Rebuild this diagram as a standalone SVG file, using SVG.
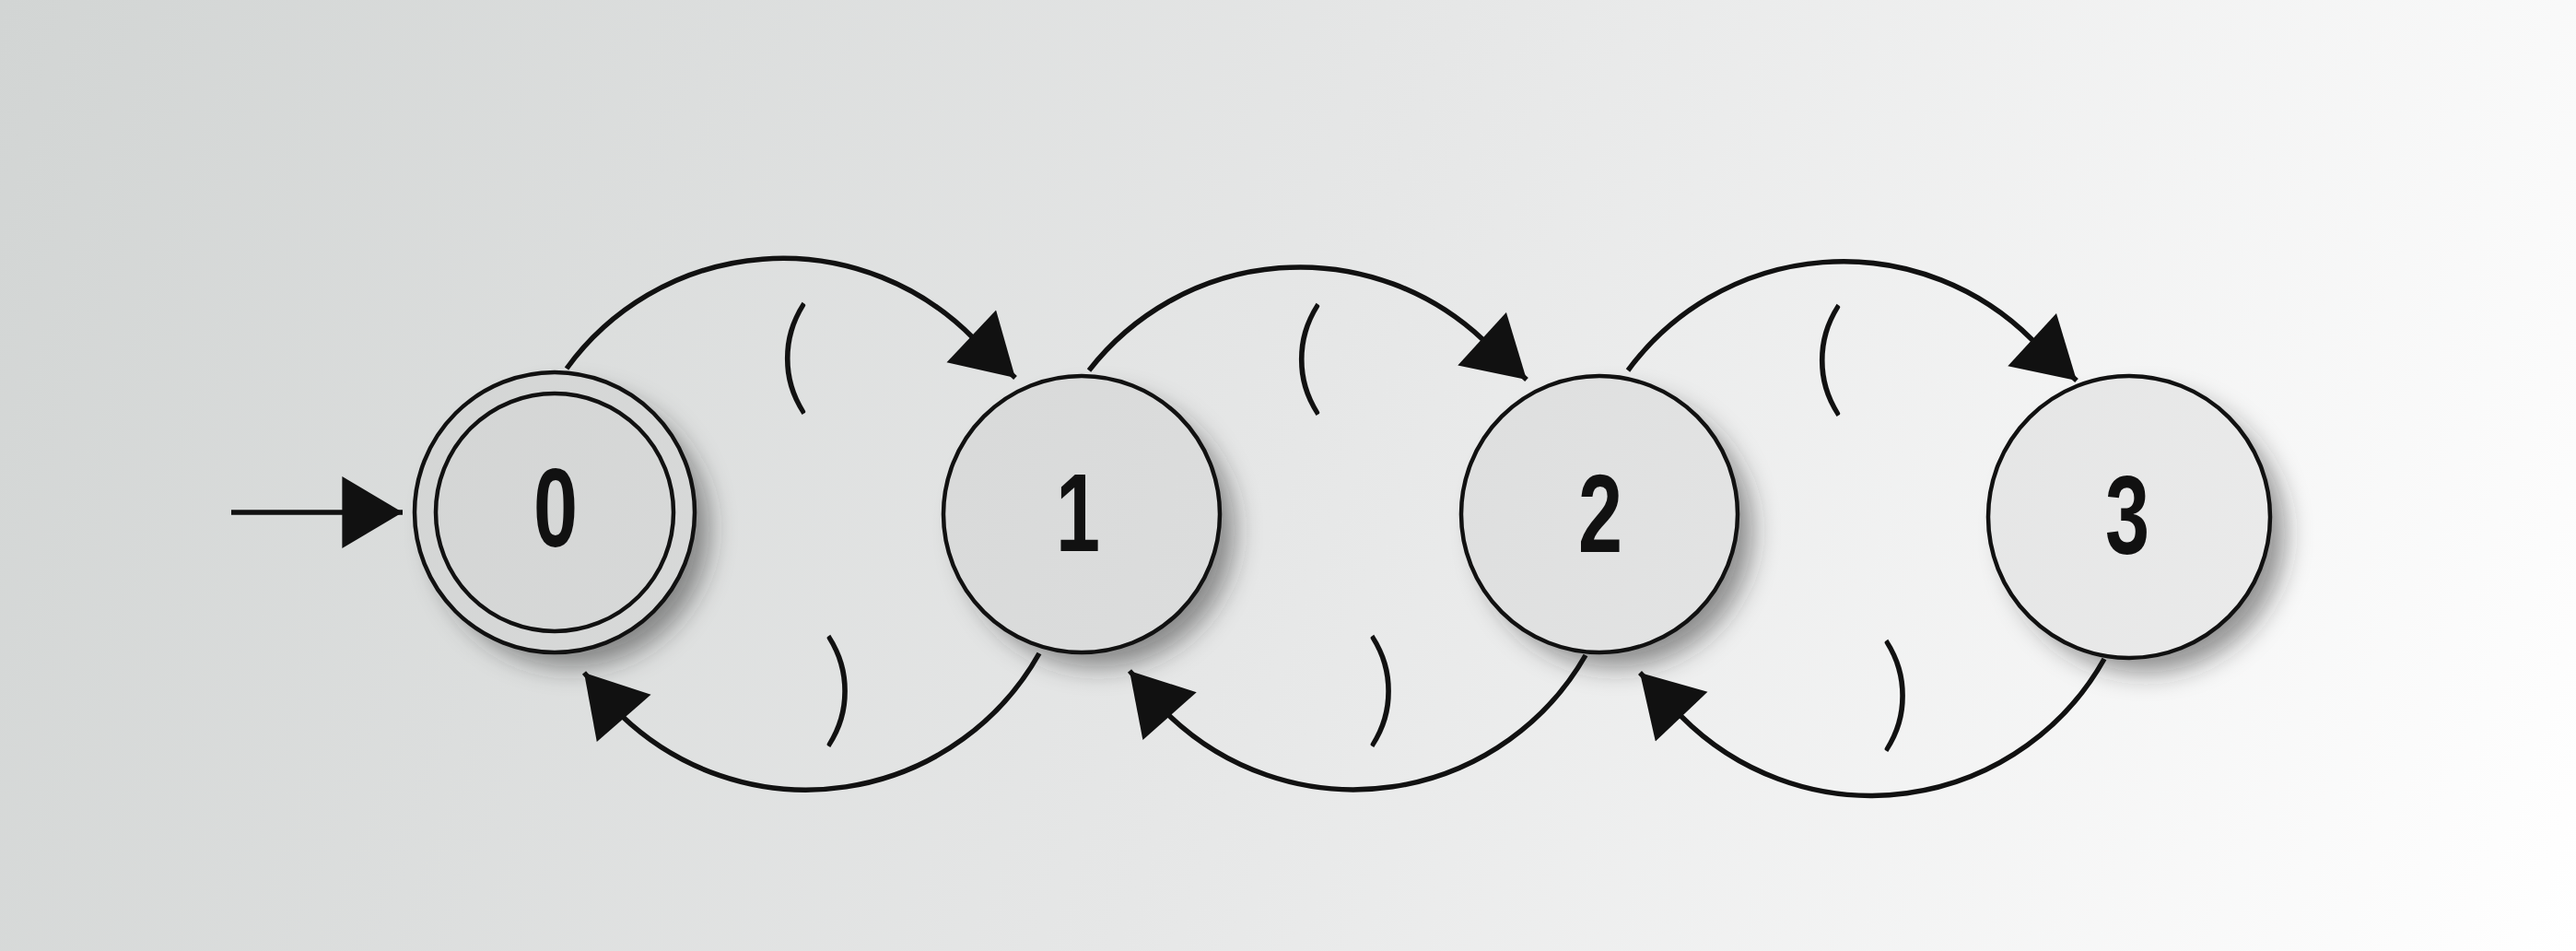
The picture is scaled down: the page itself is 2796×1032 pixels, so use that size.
<svg xmlns="http://www.w3.org/2000/svg" width="2796" height="1032" viewBox="0 0 2796 1032">
<style>
.node{stroke:#111;stroke-width:4.5}
.shadow{fill:#2a2a2a;fill-opacity:0.5}
.edge{fill:none;stroke:#111;stroke-width:5.5}
.num{font-family:"Liberation Sans",Arial,sans-serif;font-weight:bold;font-size:120px;fill:#111;text-anchor:middle}
.lbl{font-family:Lato,"Open Sans","Liberation Sans",sans-serif;font-weight:300;font-size:90px;fill:#111;text-anchor:middle}
</style>
<defs>
<linearGradient id="bg" gradientUnits="userSpaceOnUse" x1="0" y1="0" x2="2796" y2="1032">
<stop offset="0" stop-color="#d2d5d4"/>
<stop offset="0.5" stop-color="#e6e7e7"/>
<stop offset="1" stop-color="#ffffff"/>
</linearGradient>
<linearGradient id="nf" gradientUnits="userSpaceOnUse" x1="0" y1="0" x2="2796" y2="1032">
<stop offset="0" stop-color="#cfd1d0"/>
<stop offset="0.5" stop-color="#dcdddd"/>
<stop offset="1" stop-color="#f0f0f0"/>
</linearGradient>
<filter id="blur" x="-30%" y="-30%" width="160%" height="160%">
<feGaussianBlur stdDeviation="14"/>
</filter>
<marker id="arrow" markerUnits="userSpaceOnUse" markerWidth="70" markerHeight="80" viewBox="0 0 66 78" refX="64" refY="38" orient="auto">
<path d="M0,0 L64,38 L0,76 Z" fill="#111"/>
</marker>
</defs>
<rect width="2796" height="1032" fill="url(#bg)"/>

<g id="shadows" filter="url(#blur)">
<circle class="shadow" cx="620" cy="574" r="150"/>
<circle class="shadow" cx="1192" cy="576" r="148"/>
<circle class="shadow" cx="1754" cy="576" r="148"/>
<circle class="shadow" cx="2329" cy="579" r="151"/>
</g>

<g id="connectors">
<path class="edge" d="M251,556 L437,556" marker-end="url(#arrow)"/>
<path class="edge" d="M615,400 A290,290 0 0 1 1056,366.5 L1102,410" marker-end="url(#arrow)"/>
<path class="edge" d="M1182,402 A290,290 0 0 1 1609.5,368.5 L1657,412" marker-end="url(#arrow)"/>
<path class="edge" d="M1767,402 A290,290 0 0 1 2205.5,368.5 L2254,413" marker-end="url(#arrow)"/>
<path class="edge" d="M1128,709 A290,290 0 0 1 675,777 L634,730" marker-end="url(#arrow)"/>
<path class="edge" d="M1721,711 A290,290 0 0 1 1269.5,777 L1226,728" marker-end="url(#arrow)"/>
<path class="edge" d="M2284,715 A290,290 0 0 1 1824.5,777 L1780,730" marker-end="url(#arrow)"/>
</g>

<g id="labels">
<text class="lbl" transform="translate(862,391) scale(1.5,1.52)" y="27">(</text>
<text class="lbl" transform="translate(1420,392) scale(1.5,1.52)" y="27">(</text>
<text class="lbl" transform="translate(1985,393) scale(1.5,1.52)" y="27">(</text>
<text class="lbl" transform="translate(910,752) scale(1.5,1.52)" y="27">)</text>
<text class="lbl" transform="translate(1500,752) scale(1.5,1.52)" y="27">)</text>
<text class="lbl" transform="translate(2058,757) scale(1.5,1.52)" y="27">)</text>
</g>

<g id="node0">
<circle class="node" cx="602" cy="556" r="152" fill="url(#nf)"/>
<circle cx="602" cy="556" r="129" fill="none" stroke="#111" stroke-width="4.5"/>
<text class="num" transform="translate(603,593) scale(0.72,1)">0</text>
</g>
<g id="node1">
<circle class="node" cx="1174" cy="558" r="150" fill="url(#nf)"/>
<text class="num" transform="translate(1170,598) scale(0.72,1)">1</text>
</g>
<g id="node2">
<circle class="node" cx="1736" cy="558" r="150" fill="url(#nf)"/>
<text class="num" transform="translate(1737,599) scale(0.72,1)">2</text>
</g>
<g id="node3">
<circle class="node" cx="2311" cy="561" r="153" fill="url(#nf)"/>
<text class="num" transform="translate(2309,601) scale(0.72,1)">3</text>
</g>
</svg>
